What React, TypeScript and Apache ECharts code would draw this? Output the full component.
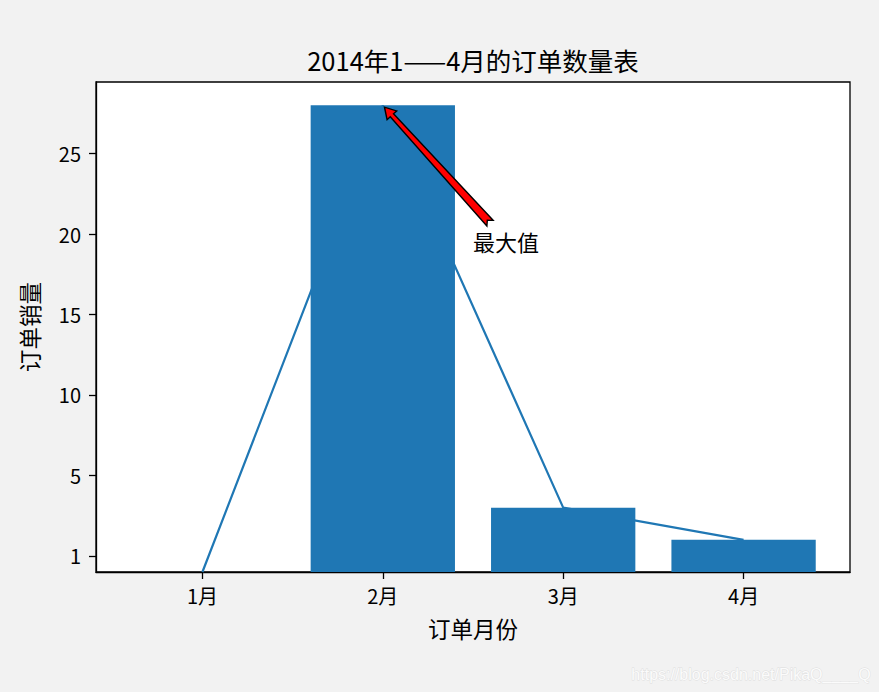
import React, { useEffect, useRef } from "react";
import * as echarts from "echarts";

// ---- data ----
const months = ["1月", "2月", "3月", "4月"];
const barValues = [-1, 28, 3, 1];
const lineValues = [-1, 28, 3, 1];
const barBase = -1;
const yTickValues = [0, 5, 10, 15, 20, 25];
const yTickLabels = ["1", "5", "10", "15", "20", "25"];
const title = "2014年1——4月的订单数量表";
const xName = "订单月份";
const yName = "订单销量";
const annotText = "最大值";
const annotXY = [1, 28];
const annotTextXY = [1.5, 19];
const watermark = "https://blog.csdn.net/PikaQ____Q";

const BLUE = "#1f77b4";
const FONT = "'Noto Sans CJK SC', 'DejaVu Sans', sans-serif";
const X_MIN = -0.59;
const X_MAX = 3.59;
const Y_MIN = -1;
const Y_MAX = 29.45;
const BAR_WIDTH = 0.8;

export default function App() {
  const ref = useRef<HTMLDivElement>(null);
  useEffect(() => {
    document.body.style.margin = "0";
    const chart = echarts.init(ref.current!, null, { renderer: "svg" });
    const option: any = {
      animation: false,
      backgroundColor: "#f2f2f2",
      title: {
        text: title,
        left: 468,
        textAlign: "center",
        top: 42,
        textStyle: { fontFamily: FONT, fontSize: 25.5, fontWeight: "normal", color: "#000" },
      },
      grid: {
        left: 96,
        top: 82,
        right: 29,
        bottom: 120,
        show: true,
        backgroundColor: "#ffffff",
        borderColor: "#000",
        borderWidth: 1.3,
      },
      xAxis: {
        type: "value",
        min: X_MIN,
        max: X_MAX,
        name: xName,
        nameLocation: "middle",
        nameGap: 45,
        nameTextStyle: { fontFamily: FONT, fontSize: 22.5, color: "#000" },
        splitLine: { show: false },
        axisLine: { show: true, onZero: false, lineStyle: { color: "#000", width: 1.3 } },
        axisTick: {
          show: true,
          length: 7,
          customValues: months.map((_, i) => i),
          lineStyle: { color: "#000", width: 1.3 },
        },
        axisLabel: {
          customValues: months.map((_, i) => i),
          formatter: (v: number) => months[Math.round(v)] ?? "",
          margin: 13,
          fontFamily: FONT,
          fontSize: 20,
          color: "#000",
        },
      },
      yAxis: {
        type: "value",
        min: Y_MIN,
        max: Y_MAX,
        name: yName,
        nameLocation: "middle",
        nameGap: 56,
        nameRotate: 90,
        nameTextStyle: { fontFamily: FONT, fontSize: 22.5, color: "#000" },
        splitLine: { show: false },
        axisLine: { show: true, onZero: false, lineStyle: { color: "#000", width: 1.3 } },
        axisTick: {
          show: true,
          length: 7,
          customValues: yTickValues,
          lineStyle: { color: "#000", width: 1.3 },
        },
        axisLabel: {
          customValues: yTickValues,
          formatter: (v: number) => {
            const i = yTickValues.indexOf(v);
            return i >= 0 ? yTickLabels[i] : "";
          },
          margin: 15,
          fontFamily: FONT,
          fontSize: 20,
          color: "#000",
        },
      },
      series: [
        {
          type: "line",
          data: lineValues.map((v, i) => [i, v]),
          showSymbol: false,
          symbol: "none",
          lineStyle: { color: BLUE, width: 2.2 },
          z: 2,
        },
        {
          type: "custom",
          data: barValues.map((v, i) => [i, v]),
          z: 3,
          renderItem: (params: any, api: any) => {
            const x = api.value(0);
            const v = api.value(1);
            const top = api.coord([x, v]);
            const base = api.coord([x, barBase]);
            const w = api.size([BAR_WIDTH, 0])[0];
            return {
              type: "rect",
              shape: { x: top[0] - w / 2, y: top[1], width: w, height: base[1] - top[1] },
              style: { fill: BLUE },
            };
          },
        },
        {
          type: "custom",
          data: [[annotXY[0], annotXY[1], annotTextXY[0], annotTextXY[1]]],
          z: 10,
          clip: false,
          renderItem: (params: any, api: any) => {
            const p = api.coord([api.value(0), api.value(1)]);
            const t = api.coord([api.value(2), api.value(3)]);
            // arrow from tail (near text) to head (annotated point)
            const tail = [t[0] + 17, t[1] - 27];
            const dx = p[0] - tail[0];
            const dy = p[1] - tail[1];
            const len = Math.sqrt(dx * dx + dy * dy);
            const ux = dx / len;
            const uy = dy / len;
            const nx = -uy;
            const ny = ux;
            const tip = [p[0] - ux * 2.5, p[1] - uy * 2.5];
            const L = len - 2.5;
            const headLen = 11;
            const headW = 6.5;
            const tailW = 4.2;
            const neckW = 2.2;
            const notch = 4;
            const at = (d: number, o: number) => [
              tail[0] + ux * d + nx * o,
              tail[1] + uy * d + ny * o,
            ];
            const pts = [
              at(0, tailW),
              at(L - headLen, neckW),
              at(L - headLen, headW),
              tip,
              at(L - headLen, -headW),
              at(L - headLen, -neckW),
              at(0, -tailW),
              at(notch, 0),
            ];
            return {
              type: "group",
              children: [
                {
                  type: "polygon",
                  shape: { points: pts },
                  style: { fill: "#ff0000", stroke: "#000", lineWidth: 1.4, lineJoin: "miter" },
                },
                {
                  type: "text",
                  x: t[0],
                  y: t[1] + 2,
                  style: {
                    text: annotText,
                    fontFamily: FONT,
                    fontSize: 22,
                    fill: "#000",
                    textAlign: "left",
                    textVerticalAlign: "bottom",
                    verticalAlign: "bottom",
                  },
                },
              ],
            };
          },
        },
      ],
      graphic: [
        {
          type: "text",
          right: 8,
          bottom: 9,
          style: {
            text: watermark,
            fontFamily: "'Liberation Sans', Arial, sans-serif",
            fontSize: 16,
            fill: "#fbfbfb",
            stroke: "#dddddd",
            lineWidth: 0.8,
          },
        },
      ],
    };
    chart.setOption(option);
    return () => chart.dispose();
  }, []);
  return (
    <div
      ref={ref}
      style={{ position: "fixed", left: 0, top: 0, width: 879, height: 692 }}
    />
  );
}
